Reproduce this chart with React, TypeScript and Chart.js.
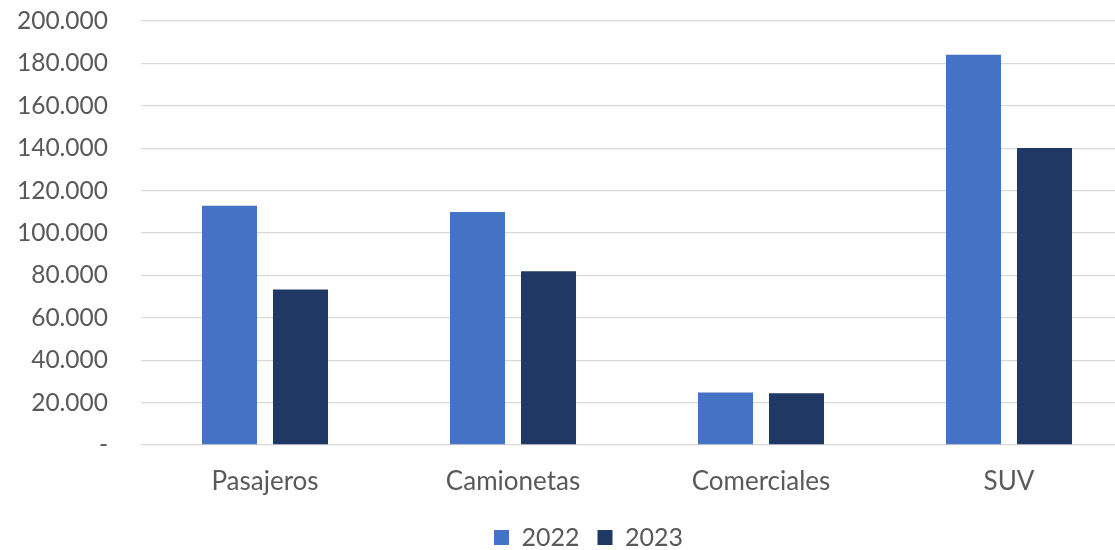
import React, { useEffect, useRef } from "react";
import { Chart, registerables } from "chart.js";

Chart.register(...registerables);

const categories = ["Pasajeros", "Camionetas", "Comerciales", "SUV"];
const series2022 = [112900, 109900, 24800, 184100];
const series2023 = [73300, 82000, 24400, 140100];
const seriesLabels = ["2022", "2023"];
const yTicks = [0, 20000, 40000, 60000, 80000, 100000, 120000, 140000, 160000, 180000, 200000];

const fmt = (v: number) => {
  if (v === 0) return "-";
  const s = Math.round(v).toString();
  return s.replace(/\B(?=(\d{3})+(?!\d))/g, ".");
};

const legendShift = {
  id: "legendShift",
  afterLayout(chart: any) {
    const lg = chart.legend;
    if (!lg) return;
    const dx = 22;
    const dy = 10;
    lg.left += dx;
    lg.right += dx;
    lg.top += dy;
    lg.bottom += dy;
    if (lg.legendHitBoxes) lg.legendHitBoxes.forEach((h: any) => { h.left += dx; h.top += dy; });
  },
};

export default function App() {
  const ref = useRef<HTMLCanvasElement | null>(null);
  useEffect(() => {
    if (!ref.current) return;
    const textColor = "#595959";
    const chart = new Chart(ref.current, {
      type: "bar",
      data: {
        labels: categories,
        datasets: [
          {
            label: seriesLabels[0],
            data: series2022,
            backgroundColor: "#4472C4",
            categoryPercentage: 0.5726,
            barPercentage: 0.775,
          },
          {
            label: seriesLabels[1],
            data: series2023,
            backgroundColor: "#203864",
            categoryPercentage: 0.5726,
            barPercentage: 0.775,
          },
        ],
      },
      plugins: [legendShift],
      options: {
        animation: false,
        responsive: false,
        maintainAspectRatio: false,
        layout: { padding: { top: 0, left: 0, right: 0, bottom: 0 } },
        plugins: {
          tooltip: { enabled: false },
          legend: {
            position: "bottom",
            labels: {
              color: textColor,
              font: { family: "Lato", size: 25 },
              boxWidth: 15,
              boxHeight: 15,
              padding: 18,
            },
          },
        },
        scales: {
          x: {
            grid: { display: false },
            border: { display: false },
            ticks: { color: textColor, font: { family: "Lato", size: 26 }, padding: 13 },
            afterFit: (axis: any) => {
              axis.height = 52;
            },
          },
          y: {
            min: 0,
            max: 200000,
            afterBuildTicks: (axis: any) => {
              axis.ticks = yTicks.map((v) => ({ value: v }));
            },
            grid: { color: "#d9d9d9", lineWidth: 1.3, drawTicks: false },
            border: { display: false },
            ticks: {
              color: textColor,
              font: { family: "Lato", size: 24.5 },
              padding: 33,
              callback: (v: any) => fmt(Number(v)),
            },
            afterFit: (axis: any) => {
              axis.width = 141;
              axis.paddingTop = 21;
              axis.paddingBottom = 0;
            },
          },
        },
      },
    });
    return () => chart.destroy();
  }, []);
  return (
    <div style={{ position: "fixed", left: 0, top: 0, width: 1115, height: 550, background: "#fff", overflow: "hidden" }}>
      <canvas ref={ref} width={1133} height={550} style={{ width: 1133, height: 550, display: "block" }} />
    </div>
  );
}
